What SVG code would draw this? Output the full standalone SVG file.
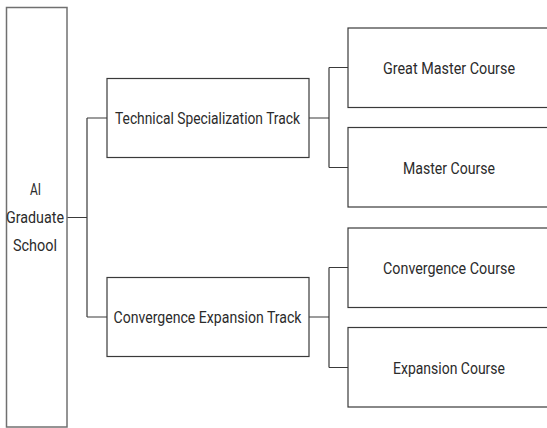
<svg xmlns="http://www.w3.org/2000/svg" width="547" height="428" viewBox="0 0 547 428">
  <style>
    .box { fill: #ffffff; stroke: #3a3a3a; stroke-width: 1.2; }
    .root { fill: #ffffff; stroke: #707070; stroke-width: 1.5; }
    .lbl { font-family: Roboto, "Noto Sans", sans-serif; font-size: 16.5px; fill: #2b2b2b; text-anchor: middle; dominant-baseline: central; }
    .wire { fill: none; stroke: #3a3a3a; stroke-width: 1.2; }
  </style>
  <rect width="547" height="428" fill="#ffffff"/>

  <g id="connectors">
    <!-- root to tracks -->
    <path class="wire" d="M67 217.5 H87 M87 118 V317 M87 118 H107 M87 317 H107"/>
    <!-- technical track to its courses -->
    <path class="wire" d="M309 118 H329 M329 67.5 V167.5 M329 67.5 H348 M329 167.5 H348"/>
    <!-- convergence track to its courses -->
    <path class="wire" d="M309 317 H329 M329 267.5 V367.5 M329 267.5 H348 M329 367.5 H348"/>
  </g>

  <g id="ai-graduate-school">
    <rect class="root" x="6.5" y="7.5" width="60.5" height="419.5"/>
    <text class="lbl" x="35.5" y="189" textLength="11" lengthAdjust="spacingAndGlyphs">AI</text>
    <text class="lbl" x="35" y="217" textLength="58" lengthAdjust="spacingAndGlyphs">Graduate</text>
    <text class="lbl" x="35" y="245" textLength="44" lengthAdjust="spacingAndGlyphs">School</text>
  </g>

  <g id="technical-specialization-track">
    <rect class="box" x="107" y="78.5" width="202" height="79"/>
    <text class="lbl" x="207.5" y="118" textLength="185" lengthAdjust="spacingAndGlyphs">Technical Specialization Track</text>
  </g>

  <g id="convergence-expansion-track">
    <rect class="box" x="107" y="277.5" width="202" height="79"/>
    <text class="lbl" x="207.5" y="317.5" textLength="188" lengthAdjust="spacingAndGlyphs">Convergence Expansion Track</text>
  </g>

  <g id="great-master-course">
    <rect class="box" x="348" y="28" width="202" height="79.5"/>
    <text class="lbl" x="449" y="68.5" textLength="132" lengthAdjust="spacingAndGlyphs">Great Master Course</text>
  </g>

  <g id="master-course">
    <rect class="box" x="348" y="127.5" width="202" height="79.5"/>
    <text class="lbl" x="449" y="168" textLength="92" lengthAdjust="spacingAndGlyphs">Master Course</text>
  </g>

  <g id="convergence-course">
    <rect class="box" x="348" y="228" width="202" height="79.5"/>
    <text class="lbl" x="449" y="268.5" textLength="132" lengthAdjust="spacingAndGlyphs">Convergence Course</text>
  </g>

  <g id="expansion-course">
    <rect class="box" x="348" y="327.5" width="202" height="79.5"/>
    <text class="lbl" x="449" y="368" textLength="112" lengthAdjust="spacingAndGlyphs">Expansion Course</text>
  </g>
</svg>
